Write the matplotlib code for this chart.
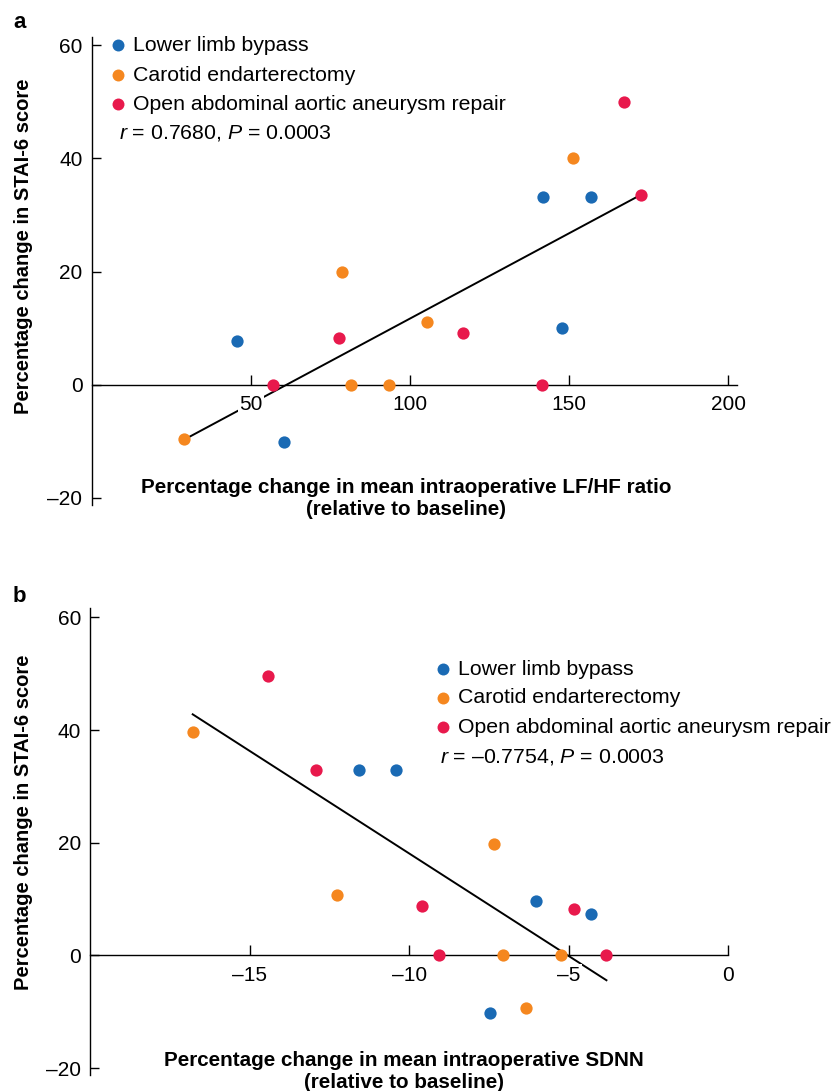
import matplotlib
matplotlib.use('Agg')
import matplotlib.pyplot as plt
import numpy as np

plt.rcParams['font.family'] = ['Liberation Sans', 'DejaVu Sans']
plt.rcParams['mathtext.fontset'] = 'custom'
plt.rcParams['mathtext.rm'] = 'Liberation Sans'
plt.rcParams['mathtext.it'] = 'Liberation Sans:italic'

groups = ['Lower limb bypass', 'Carotid endarterectomy', 'Open abdominal aortic aneurysm repair']
colors = ['#1a6ab4', '#f5871f', '#e8194c']

# panel a: change in LF/HF ratio vs change in STAI-6
lfhf_x = [
    [45.7, 60.5, 141.7, 156.8, 147.7],
    [29.1, 78.6, 81.4, 93.5, 105.4, 151.3],
    [56.9, 77.7, 116.8, 141.6, 167.3, 172.7],
]
lfhf_y = [
    [7.7, -10.1, 33.2, 33.2, 10.0],
    [-9.6, 20.0, 0.0, 0.0, 11.1, 40.0],
    [0.0, 8.3, 9.2, 0.0, 49.9, 33.5],
]

# panel b: change in SDNN vs change in STAI-6
sdnn_x = [
    [-11.57, -10.43, -6.04, -4.29, -7.47],
    [-16.79, -7.34, -12.28, -7.06, -5.25, -6.35],
    [-14.42, -12.93, -9.59, -4.83, -9.07, -3.82],
]
sdnn_y = [
    [32.9, 32.9, 9.7, 7.4, -10.3],
    [39.6, 19.7, 10.8, 0.0, 0.0, -9.3],
    [49.5, 32.9, 8.8, 8.2, 0.0, 0.0],
]

a_xticks = [50, 100, 150, 200]
b_xticks = [-15, -10, -5, 0]
b_xticklabels = ['\u201315', '\u201310', '\u20135', '0']
yticks = [-20, 0, 20, 40, 60]
yticklabels = ['\u201320', '0', '20', '40', '60']

stat_a = r'$\it{r}$ = 0.7680, $\it{P}$ = 0.0003'
stat_b = r'$\it{r}$ = ' + '\u2013' + r'0.7754, $\it{P}$ = 0.0003'

W, H = 834, 1091
fig = plt.figure(figsize=(W / 100, H / 100), dpi=100)


def box(left, top, right, bottom):
    return [left / W, 1 - bottom / H, (right - left) / W, (bottom - top) / H]


def draw_panel(ax, xs, ys, xticks, xticklabels, xlim, ylim, leg_x, leg_y, stat):
    for x, y, c in zip(xs, ys, colors):
        ax.scatter(x, y, s=78, color=c, zorder=4, linewidths=0, clip_on=False)
    allx = np.concatenate([np.array(v) for v in xs])
    ally = np.concatenate([np.array(v) for v in ys])
    k, b = np.polyfit(allx, ally, 1)
    lx = np.array([allx.min(), allx.max()])
    ax.plot(lx, k * lx + b, color='black', lw=1.4, zorder=2, clip_on=False)

    ax.set_xlim(*xlim)
    ax.set_ylim(*ylim)
    for s in ['top', 'right']:
        ax.spines[s].set_visible(False)
    ax.spines['bottom'].set_position(('data', 0))
    for s in ['left', 'bottom']:
        ax.spines[s].set_linewidth(1.0)
    ax.set_xticks(xticks)
    ax.set_xticklabels(xticklabels)
    ax.set_yticks(yticks)
    ax.set_yticklabels(yticklabels)
    ax.tick_params(axis='both', direction='in', labelsize=15, width=1.0)
    ax.tick_params(axis='x', length=7.2, pad=7.5)
    ax.tick_params(axis='y', length=6.7, pad=6.5)
    ax.xaxis.set_zorder(3)
    for lab in ax.get_xticklabels():
        lab.set_bbox(dict(facecolor='white', edgecolor='none', pad=1.0))

    for i, (g, c) in enumerate(zip(groups, colors)):
        ax.plot([leg_x[0]], [leg_y[i]], 'o', ms=8.6, color=c, mec='none',
                transform=ax.transAxes, clip_on=False)
        ax.text(leg_x[1], leg_y[i], g, transform=ax.transAxes, fontsize=15.3,
                va='center', ha='left')
    ax.text(leg_x[2], leg_y[3], stat, transform=ax.transAxes, fontsize=15.3,
            va='center', ha='left')


ax_a = fig.add_axes(box(91.5, 37.3, 736.7, 505))
draw_panel(ax_a, lfhf_x, lfhf_y, a_xticks, [str(t) for t in a_xticks],
           (0, 202.6), (-21.25, 61.4),
           [0.041, 0.0645, 0.043], [0.9835, 0.919, 0.857, 0.795], stat_a)

ax_b = fig.add_axes(box(90.3, 608.3, 728.3, 1075.4))
draw_panel(ax_b, sdnn_x, sdnn_y, b_xticks, b_xticklabels,
           (-20, 0), (-21.3, 61.6),
           [0.553, 0.577, 0.548], [0.869, 0.808, 0.745, 0.681], stat_b)

ylab = 'Percentage change in STAI-6 score'
fig.text(24 / W, 1 - 246 / H, ylab, rotation=90, fontsize=14.5, fontweight='bold',
         ha='center', va='center')
fig.text(24 / W, 1 - 822 / H, ylab, rotation=90, fontsize=14.5, fontweight='bold',
         ha='center', va='center')

fig.text(406 / W, 1 - 498.5 / H,
         'Percentage change in mean intraoperative LF/HF ratio\n(relative to baseline)',
         fontsize=14.9, fontweight='bold', ha='center', va='center', linespacing=1.2)
fig.text(404 / W, 1 - 1071 / H,
         'Percentage change in mean intraoperative SDNN\n(relative to baseline)',
         fontsize=14.9, fontweight='bold', ha='center', va='center', linespacing=1.2)

fig.text(13 / W, 1 - 28.3 / H, 'a', fontsize=16, fontweight='bold', ha='left', va='baseline')
fig.text(13 / W, 1 - 601.7 / H, 'b', fontsize=16, fontweight='bold', ha='left', va='baseline')

fig.savefig('out.png', dpi=100)
